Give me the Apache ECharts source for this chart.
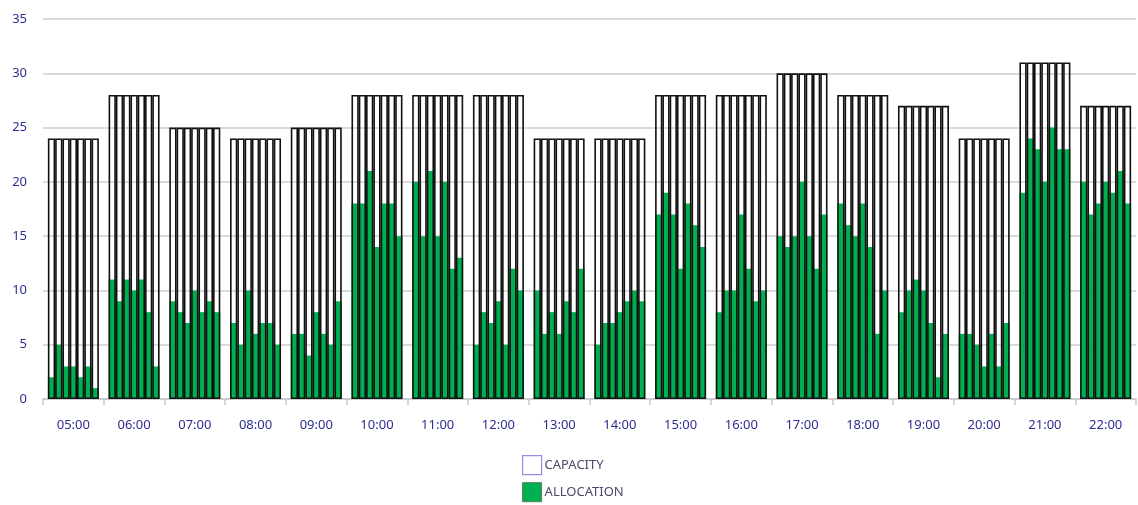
<!DOCTYPE html>
<html>
<head>
<meta charset="utf-8">
<script src="https://cdn.jsdelivr.net/npm/echarts@6/dist/echarts.min.js"></script>
<style>html,body{margin:0;padding:0;background:#fff;}#c{width:1138px;height:505px;}</style>
</head>
<body>
<div id="c"></div>
<script>
const hours = ['05:00','06:00','07:00','08:00','09:00','10:00','11:00','12:00','13:00','14:00','15:00','16:00','17:00','18:00','19:00','20:00','21:00','22:00'];
const capacity = [24,28,25,24,25,28,28,28,24,24,28,28,30,28,27,24,31,27];
// seven sub-slots per hour
const allocation = [
  [2,5,3,3,2,3,1],
  [11,9,11,10,11,8,3],
  [9,8,7,10,8,9,8],
  [7,5,10,6,7,7,5],
  [6,6,4,8,6,5,9],
  [18,18,21,14,18,18,15],
  [20,15,21,15,20,12,13],
  [5,8,7,9,5,12,10],
  [10,6,8,6,9,8,12],
  [5,7,7,8,9,10,9],
  [17,19,17,12,18,16,14],
  [8,10,10,17,12,9,10],
  [15,14,15,20,15,12,17],
  [18,16,15,18,14,6,10],
  [8,10,11,10,7,2,6],
  [6,6,5,3,6,3,7],
  [19,24,23,20,25,23,23],
  [20,17,18,20,19,21,18]
];
const yTicks = {min:0, max:35, interval:5};

const green = '#00b050';
const labelColor = '#2e2e90';
const font = 'Noto Sans';
const slots = 7;

const series = [];
for (let k = 0; k < slots; k++) {
  series.push({
    name: 'ALLOCATION', type: 'bar', xAxisIndex: 0,
    data: allocation.map(r => r[k]),
    barGap: '0%', barCategoryGap: '16%',
    itemStyle: {color: green},
    z: 2, silent: true
  });
}
for (let k = 0; k < slots; k++) {
  series.push({
    name: 'CAPACITY', type: 'bar', xAxisIndex: 1,
    data: capacity.slice(),
    barGap: '0%', barCategoryGap: '16%',
    itemStyle: {color: 'rgba(0,0,0,0)', borderColor: '#111', borderWidth: 1.6},
    z: 3, silent: true
  });
}

const chart = echarts.init(document.getElementById('c'));
chart.setOption({
  animation: false,
  backgroundColor: '#fff',
  grid: {left: 43, right: 2, top: 19, bottom: 106, containLabel: false},
  legend: {
    orient: 'vertical', left: 522, top: 455, itemGap: 7, padding: 0,
    itemWidth: 19, itemHeight: 19, selectedMode: false,
    textStyle: {color: '#4a4a6e', fontFamily: font, fontSize: 13, padding: [0,0,0,-2]},
    data: [
      {name: 'CAPACITY', icon: 'rect', itemStyle: {color: '#fff', borderColor: '#8f8fe6', borderWidth: 1.2}},
      {name: 'ALLOCATION', icon: 'rect', itemStyle: {color: green, borderColor: '#5a7a5a', borderWidth: 1}}
    ]
  },
  xAxis: [
    {
      type: 'category', data: hours,
      axisLine: {show: true, lineStyle: {color: '#c8c8c8', width: 1.5}},
      axisTick: {show: true, inside: false, length: 6, alignWithLabel: false, lineStyle: {color: '#c8c8c8', width: 1.5}},
      axisLabel: {color: labelColor, fontFamily: font, fontSize: 13, margin: 20},
      splitLine: {show: false}
    },
    {type: 'category', data: hours, show: false}
  ],
  yAxis: {
    type: 'value', min: yTicks.min, max: yTicks.max, interval: yTicks.interval,
    axisLine: {show: false}, axisTick: {show: false},
    axisLabel: {color: labelColor, fontFamily: font, fontSize: 13, margin: 16},
    splitLine: {lineStyle: {color: '#dadada', width: 2}}
  },
  series: series
});
</script>
</body>
</html>
